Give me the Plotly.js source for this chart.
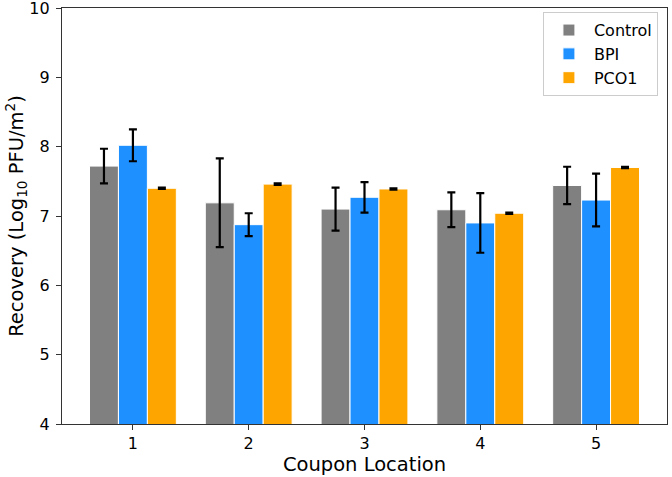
<!DOCTYPE html>
<html>
<head>
<meta charset="utf-8">
<script src="https://cdn.plot.ly/plotly-3.0.1.min.js"></script>
<style>html,body{margin:0;padding:0;background:#fff;}#chart{width:672px;height:477px;}</style>
</head>
<body>
<div id="chart"></div>
<script>
const locations = [1, 2, 3, 4, 5];
const yTicks = [4, 5, 6, 7, 8, 9, 10];
const controlVals = [7.72, 7.19, 7.10, 7.09, 7.44];
const controlErr  = [0.25, 0.64, 0.31, 0.25, 0.27];
const bpiVals = [8.02, 6.875, 7.27, 6.90, 7.23];
const bpiErr  = [0.23, 0.165, 0.22, 0.43, 0.38];
const pcoVals = [7.40, 7.46, 7.39, 7.04, 7.70];
const pcoErr  = [0.01, 0.01, 0.01, 0.01, 0.01];

function mk(name, y, err, color) {
  return {
    type: 'bar', name: name, x: locations, y: y,
    base: 0,
    marker: {color: color, line: {color: '#ffffff', width: 1}},
    error_y: {type: 'data', array: err, visible: true, color: '#000000', thickness: 2.2, width: 4}
  };
}
const data = [
  mk('Control', controlVals, controlErr, '#808080'),
  mk('BPI', bpiVals, bpiErr, '#1E90FF'),
  mk('PCO1', pcoVals, pcoErr, '#FFA500')
];
const FF = 'DejaVu Sans, sans-serif';
const layout = {
  width: 672, height: 477,
  margin: {l: 62, r: 5, t: 8, b: 53},
  paper_bgcolor: '#fff', plot_bgcolor: '#fff',
  font: {family: FF, color: '#000'},
  barmode: 'group', bargap: 0.25, bargroupgap: 0,
  showlegend: true,
  legend: {x: 0.985, xanchor: 'right', y: 0.99, yanchor: 'top',
           bgcolor: '#fff', bordercolor: '#cccccc', borderwidth: 1,
           font: {family: FF, size: 16, color: '#000'},
           itemwidth: 40},
  xaxis: {
    range: [0.3875, 5.6125], tickvals: locations, ticktext: locations.map(String),
    ticks: 'outside', ticklen: 5, tickwidth: 1, tickcolor: '#333',
    showline: true, mirror: true, linecolor: '#333', linewidth: 1.2,
    showgrid: false, zeroline: false,
    tickfont: {family: FF, size: 16, color: '#000'},
    title: {text: 'Coupon Location', font: {family: FF, size: 19.5, color: '#000'}, standoff: 4}
  },
  yaxis: {
    range: [4, 10], tickvals: yTicks, ticktext: yTicks.map(String),
    ticklabeloverflow: 'allow', ticklabelstandoff: 3,
    ticks: 'outside', ticklen: 5, tickwidth: 1, tickcolor: '#333',
    showline: true, mirror: true, linecolor: '#333', linewidth: 1.2,
    showgrid: false, zeroline: false,
    tickfont: {family: FF, size: 16, color: '#000'},
    title: {text: 'Recovery (Log<sub>10</sub> PFU/m<sup>2</sup>)', font: {family: FF, size: 19.5, color: '#000'}, standoff: 0}
  }
};
Plotly.newPlot('chart', data, layout, {displayModeBar: false, staticPlot: true});
</script>
</body>
</html>
